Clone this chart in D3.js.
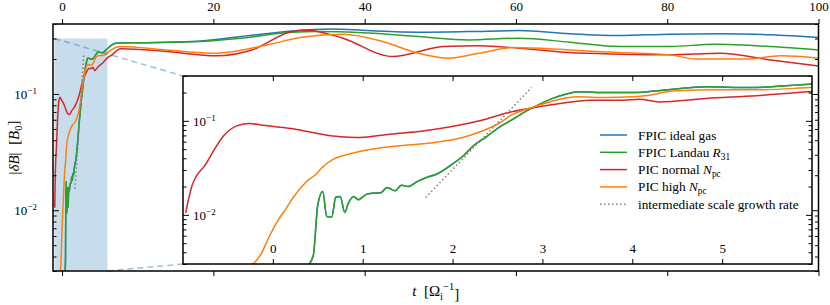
<!DOCTYPE html>
<html>
<head>
<meta charset="utf-8">
<script src="https://cdn.jsdelivr.net/npm/d3@7"></script>
<style>
  body { margin: 0; background: #fff; }
  svg text { font-family: "Liberation Serif", "DejaVu Serif", serif; fill: #000; }
</style>
</head>
<body>
<div id="chart"></div>
<script>
// values, [t, |dB|]
// the two FPIC runs sit on top of each other until t ~ 6
const fpicEarly = [[0.38,0.0028],[0.45,0.0037],[0.50,0.0128],[0.555,0.0177],[0.60,0.0096],[0.655,0.0095],
  [0.70,0.0154],[0.75,0.0157],[0.80,0.0106],[0.84,0.0133],[0.90,0.0157],[0.95,0.0145],[1.04,0.0165],
  [1.10,0.017],[1.20,0.0172],[1.27,0.0195],[1.36,0.018],[1.43,0.0207],[1.51,0.020],[1.60,0.0224],
  [1.71,0.025],[1.82,0.027],[1.97,0.0332],[2.12,0.0425],[2.23,0.054],[2.38,0.068],[2.53,0.087],
  [2.64,0.10],[2.86,0.133],[3.16,0.18],[3.41,0.204],[3.71,0.20],[3.97,0.20],[4.19,0.205],[4.45,0.217],
  [4.82,0.23],[5.3,0.226],[5.97,0.245],[6.5,0.262]];
const blueLate = [[7.1,0.273],[10,0.276],[17.1,0.283],[23.7,0.312],[30.4,0.349],[35.7,0.363],[40.4,0.351],
  [47.1,0.340],[53.7,0.344],[60.4,0.351],[67.1,0.329],[73.7,0.318],[80.4,0.327],[87.0,0.329],[93.7,0.323],[100,0.306]];
const greenLate = [[7.1,0.273],[10,0.276],[17.1,0.281],[23.7,0.302],[30.4,0.34],[33.7,0.344],[40.4,0.334],
  [47.1,0.312],[53.7,0.292],[60.4,0.302],[67.1,0.279],[73.7,0.256],[80.4,0.256],[86.2,0.268],[93.7,0.256],[100,0.239]];
const redData = [[-0.97,0.0105],[-0.90,0.0204],[-0.85,0.026],[-0.76,0.0332],[-0.66,0.048],[-0.55,0.069],
  [-0.40,0.0885],[-0.26,0.0936],[-0.11,0.090],[0.11,0.085],[0.30,0.080],[0.48,0.074],[0.67,0.069],[0.85,0.067],
  [0.97,0.0665],[1.30,0.0722],[1.67,0.078],[2.04,0.0885],[2.30,0.10],[2.41,0.107],[2.6,0.121],[2.86,0.136],
  [3.16,0.151],[3.53,0.166],[3.9,0.166],[4.08,0.17],[4.3,0.159],[4.82,0.173],[5.38,0.185],[5.97,0.204],
  [6.5,0.215],[7.75,0.245],[13.8,0.232],[20.4,0.213],[25.1,0.239],[30.4,0.345],[32.4,0.354],[37.1,0.302],
  [43.7,0.21],[50.4,0.256],[55.1,0.26],[60.4,0.248],[67.1,0.227],[73.7,0.22],[80.4,0.217],[87.0,0.224],
  [93.7,0.196],[100,0.174]];
const orangeData = [[-0.26,0.0028],[-0.14,0.0037],[-0.05,0.0056],[0.05,0.0085],[0.15,0.0118],[0.23,0.0155],
  [0.37,0.0224],[0.48,0.027],[0.55,0.032],[0.67,0.039],[0.82,0.0435],[1.0,0.048],[1.38,0.054],[1.75,0.058],
  [2.12,0.067],[2.23,0.072],[2.41,0.084],[2.53,0.096],[2.64,0.113],[2.86,0.136],[3.16,0.167],[3.38,0.18],
  [3.71,0.177],[4.0,0.18],[4.19,0.1876],[4.45,0.208],[5.0,0.214],[5.38,0.214],[5.97,0.226],[6.5,0.24],
  [7.75,0.256],[13.8,0.239],[20.4,0.224],[27.1,0.264],[31.7,0.308],[37.1,0.327],[42.4,0.283],[47.1,0.224],
  [51.1,0.203],[55.1,0.224],[59.7,0.251],[67.1,0.239],[73.7,0.227],[80.4,0.217],[83.7,0.2],[90.4,0.2],
  [95.0,0.213],[100,0.203]];
const growthLine = [[1.7,0.0153],[2.88,0.226]];

const seriesNames = ["FPIC ideal gas", "FPIC Landau R31", "PIC normal Npc", "PIC high Npc"];
const seriesColors = ["#1f77b4", "#2ca02c", "#d62728", "#ff7f0e"];

const mainTicks = [0, 20, 40, 60, 80, 100];
const insetTicks = [0, 1, 2, 3, 4, 5];
const yMajors = [0.01, 0.1];
const yMinors = [0.003,0.004,0.005,0.006,0.007,0.008,0.009,0.02,0.03,0.04,0.05,0.06,0.07,0.08,0.09,0.2,0.3,0.4];
const zoomT = [-1, 6];
const zoomV = [0.003, 0.3];

const series = [fpicEarly.concat(blueLate), fpicEarly.concat(greenLate), redData, orangeData];

const width = 830, height = 305;
const fs = 13;
const svg = d3.select("#chart").append("svg").attr("width", width).attr("height", height);

let x = d3.scaleLinear().domain([-1.2, 100]).range([53, 818.5]);
let y = d3.scaleLog().domain([0.003, 0.4]).range([271, 24]);
let xi = d3.scaleLinear().domain(zoomT).range([183, 812]);
let yi = d3.scaleLog().domain(zoomV).range([264, 76]);

let defs = svg.append("defs");
defs.append("clipPath").attr("id", "clipMain").append("rect")
  .attr("x", 53).attr("y", 24).attr("width", 818.5 - 53).attr("height", 271 - 24);
defs.append("clipPath").attr("id", "clipInset").append("rect")
  .attr("x", 183).attr("y", 76).attr("width", 812 - 183).attr("height", 264 - 76);

// superscript tick labels 10^-n
function powLabel(sel) {
  sel.each(function(d) {
    let t = d3.select(this).text("");
    t.append("tspan").text("10");
    t.append("tspan").attr("dy", "-0.5em").attr("font-size", "70%")
      .text("\u2212" + Math.round(-Math.log10(d)));
  });
}

// ---- main axes ----
let mainG = svg.append("g");
mainG.append("rect")
  .attr("x", x(zoomT[0])).attr("y", y(zoomV[1]))
  .attr("width", x(zoomT[1]) - x(zoomT[0])).attr("height", y(zoomV[0]) - y(zoomV[1]))
  .attr("fill", "#c7ddec");

let lineMain = d3.line().x(d => x(d[0])).y(d => y(d[1])).curve(d3.curveMonotoneX);
let mainLines = mainG.append("g").attr("clip-path", "url(#clipMain)");
series.forEach((s, i) => {
  mainLines.append("path").attr("d", lineMain(s)).attr("fill", "none")
    .attr("stroke", seriesColors[i]).attr("stroke-width", 1.5);
});
mainLines.append("path").attr("d", lineMain(growthLine)).attr("fill", "none")
  .attr("stroke", "#7f7f7f").attr("stroke-width", 1.5).attr("stroke-dasharray", "1.5,2.5");

// connectors from the zoom box to the inset
let conn = [
  [[x(zoomT[0]), y(zoomV[1])], [183, 76]],
  [[x(zoomT[1]), y(zoomV[0])], [183, 264]]
];
conn.forEach(c => {
  mainG.append("line").attr("x1", c[0][0]).attr("y1", c[0][1]).attr("x2", c[1][0]).attr("y2", c[1][1])
    .attr("stroke", "#1f77b4").attr("stroke-opacity", 0.45).attr("stroke-width", 1.5)
    .attr("stroke-dasharray", "6,4");
});

function styleAxis(g) {
  g.select(".domain").remove();
  g.selectAll("line").attr("stroke", "#000").attr("stroke-width", 1);
  g.selectAll("text").attr("font-size", fs).attr("fill", "#000")
    .style("font-family", '"Liberation Serif", "DejaVu Serif", serif');
}

mainG.append("g").attr("transform", "translate(0,24)")
  .call(d3.axisTop(x).tickValues(mainTicks).tickSize(5).tickPadding(8).tickFormat(d3.format("d")))
  .call(styleAxis);
mainG.append("g").attr("transform", "translate(0,271)")
  .call(d3.axisBottom(x).tickValues(mainTicks).tickSize(5).tickFormat(""))
  .call(styleAxis);
mainG.append("g").attr("transform", "translate(53,0)")
  .call(d3.axisLeft(y).tickValues(yMajors).tickSize(-6).tickPadding(16))
  .call(styleAxis)
  .call(g => g.selectAll("text").call(powLabel));
mainG.append("g").attr("transform", "translate(53,0)")
  .call(d3.axisLeft(y).tickValues(yMinors).tickSize(-3.5).tickFormat(""))
  .call(styleAxis);
mainG.append("g").attr("transform", "translate(818.5,0)")
  .call(d3.axisRight(y).tickValues(yMajors).tickSize(-6).tickFormat(""))
  .call(styleAxis);
mainG.append("g").attr("transform", "translate(818.5,0)")
  .call(d3.axisRight(y).tickValues(yMinors).tickSize(-3.5).tickFormat(""))
  .call(styleAxis);

// ---- inset ----
let insetG = svg.append("g");
insetG.append("rect").attr("x", 183).attr("y", 76).attr("width", 812 - 183).attr("height", 264 - 76)
  .attr("fill", "#fff");

let lineInset = d3.line().x(d => xi(d[0])).y(d => yi(d[1])).curve(d3.curveMonotoneX);
let insetLines = insetG.append("g").attr("clip-path", "url(#clipInset)");
series.forEach((s, i) => {
  insetLines.append("path").attr("d", lineInset(s)).attr("fill", "none")
    .attr("stroke", seriesColors[i]).attr("stroke-width", 1.5);
});
insetLines.append("path").attr("d", lineInset(growthLine)).attr("fill", "none")
  .attr("stroke", "#7f7f7f").attr("stroke-width", 1.5).attr("stroke-dasharray", "1.5,2.5");

insetG.append("g").attr("transform", "translate(0,264)")
  .call(d3.axisTop(xi).tickValues(insetTicks).tickSize(5).tickPadding(6).tickFormat(d3.format("d")))
  .call(styleAxis);
insetG.append("g").attr("transform", "translate(0,76)")
  .call(d3.axisBottom(xi).tickValues(insetTicks).tickSize(5).tickFormat(""))
  .call(styleAxis);
insetG.append("g").attr("transform", "translate(183,0)")
  .call(d3.axisRight(yi).tickValues(yMajors).tickSize(6).tickPadding(4))
  .call(styleAxis)
  .call(g => g.selectAll("text").call(powLabel));
insetG.append("g").attr("transform", "translate(183,0)")
  .call(d3.axisRight(yi).tickValues(yMinors.filter(v => v <= 0.3)).tickSize(3.5).tickFormat(""))
  .call(styleAxis);
insetG.append("g").attr("transform", "translate(812,0)")
  .call(d3.axisLeft(yi).tickValues(yMajors).tickSize(6).tickFormat(""))
  .call(styleAxis);
insetG.append("g").attr("transform", "translate(812,0)")
  .call(d3.axisLeft(yi).tickValues(yMinors.filter(v => v <= 0.3)).tickSize(3.5).tickFormat(""))
  .call(styleAxis);

insetG.append("rect").attr("x", 183).attr("y", 76).attr("width", 812 - 183).attr("height", 264 - 76)
  .attr("fill", "none").attr("stroke", "#000").attr("stroke-width", 1.5);

// legend
let legend = insetG.append("g").attr("transform", "translate(600,135)");
let legendRows = seriesNames.concat(["intermediate scale growth rate"]);
legendRows.forEach((name, i) => {
  let row = legend.append("g").attr("transform", `translate(0,${i * 17.3})`);
  row.append("line").attr("x1", 0).attr("x2", 27).attr("y1", 0).attr("y2", 0)
    .attr("stroke", i < 4 ? seriesColors[i] : "#7f7f7f").attr("stroke-width", 1.5)
    .attr("stroke-dasharray", i < 4 ? null : "1.5,2.5");
  let t = row.append("text").attr("x", 38).attr("y", 4.5).attr("font-size", 13.3);
  if (i === 1) {
    t.append("tspan").text("FPIC Landau ");
    t.append("tspan").attr("font-style", "italic").text("R");
    t.append("tspan").attr("font-size", "70%").attr("dy", "0.3em").text("31");
  } else if (i === 2 || i === 3) {
    t.append("tspan").text(i === 2 ? "PIC normal " : "PIC high ");
    t.append("tspan").attr("font-style", "italic").text("N");
    t.append("tspan").attr("font-size", "70%").attr("dy", "0.3em").text("pc");
  } else {
    t.text(name);
  }
});

// main frame
svg.append("rect").attr("x", 53).attr("y", 24).attr("width", 818.5 - 53).attr("height", 271 - 24)
  .attr("fill", "none").attr("stroke", "#000").attr("stroke-width", 1.5);

// axis labels
let xl = svg.append("text").attr("x", 435.75).attr("y", 296).attr("text-anchor", "middle").attr("font-size", 15);
xl.append("tspan").attr("font-style", "italic").text("t");
xl.append("tspan").text("\u2002[\u03A9");
xl.append("tspan").attr("font-size", "70%").attr("dy", "0.35em").text("i");
xl.append("tspan").attr("font-size", "70%").attr("dy", "-0.95em").text("\u22121");
xl.append("tspan").attr("dy", "0.6em").text("]");

let yl = svg.append("text").attr("transform", "translate(19,147.5) rotate(-90)")
  .attr("text-anchor", "middle").attr("font-size", 15);
yl.append("tspan").text("|");
yl.append("tspan").attr("font-style", "italic").text("\u03B4B");
yl.append("tspan").text("|\u2002[");
yl.append("tspan").attr("font-style", "italic").text("B");
yl.append("tspan").attr("font-size", "70%").attr("dy", "0.3em").text("0");
yl.append("tspan").attr("dy", "-0.3em").text("]");
</script>
</body>
</html>
